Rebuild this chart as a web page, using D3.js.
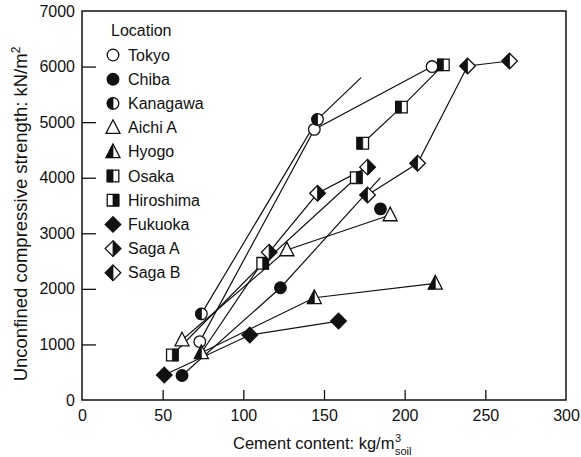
<!DOCTYPE html>
<html><head><meta charset="utf-8">
<script src="https://cdn.jsdelivr.net/npm/d3@7/dist/d3.min.js"></script>
<style>
html,body{margin:0;padding:0;background:#fff;}
text{font-family:"Liberation Sans",Arial,Helvetica,sans-serif;fill:#111;}
</style></head>
<body><svg id="chart" width="581" height="457"></svg>
<script>
// ---- data (x: cement content kg/m3, y: unconfined compressive strength kN/m2) ----
const locations = ["Tokyo","Chiba","Kanagawa","Aichi A","Hyogo","Osaka","Hiroshima","Fukuoka","Saga A","Saga B"];
const tokyo     = [[73,1050],[144,4870],[217,6000]];
const chiba     = [[62,440],[123,2020],[185,3440]];
const kanagawa  = [[74,1550],[146,5050]];
const aichiA    = [[62,1080],[127,2700],[191,3330]];
const hyogo     = [[74,850],[144,1840],[219,2100]];
const osaka     = [[174,4620],[198,5270],[224,6030]];
const hiroshima = [[56,810],[112,2460],[170,4000]];
const fukuoka   = [[51,450],[104,1170],[159,1420]];
const sagaA     = [[116,2660],[146,3720],[177,4190]];
const sagaB     = [[177,3690],[208,4260],[239,6010],[265,6100]];
// connecting lines where they differ from the plotted points
const kanagawaLine = [[74,1550],[146,5050],[173,5800]];
const chibaLine    = [[62,440],[123,2020],[185,4000]];
const sagaALine    = [[74,850],[116,2660],[146,3720],[177,4190]];
const xTicks = [0,50,100,150,200,250,300];
const yTicks = [0,1000,2000,3000,4000,5000,6000,7000];

// ---- marker styles ----
const markerStyle = {
  "Tokyo":["circle","open"], "Chiba":["circle","full"], "Kanagawa":["circle","left"],
  "Aichi A":["triangle","open"], "Hyogo":["triangle","left"], "Osaka":["square","left"],
  "Hiroshima":["square","right"], "Fukuoka":["diamond","full"], "Saga A":["diamond","right"],
  "Saga B":["diamond","left"]
};
const series = [
  {name:"Tokyo", pts:tokyo, line:tokyo},
  {name:"Chiba", pts:chiba, line:chibaLine},
  {name:"Kanagawa", pts:kanagawa, line:kanagawaLine},
  {name:"Aichi A", pts:aichiA, line:aichiA},
  {name:"Hyogo", pts:hyogo, line:hyogo},
  {name:"Osaka", pts:osaka, line:osaka},
  {name:"Hiroshima", pts:hiroshima, line:hiroshima},
  {name:"Fukuoka", pts:fukuoka, line:fukuoka},
  {name:"Saga A", pts:sagaA, line:sagaALine},
  {name:"Saga B", pts:sagaB, line:sagaB}
];

const svg = d3.select("#chart");
const L=82, R=566, T=11, B=400;
const x = d3.scaleLinear().domain([0,300]).range([L,R]);
const y = d3.scaleLinear().domain([0,7000]).range([B,T]);

// frame
svg.append("rect").attr("x",L).attr("y",T).attr("width",R-L).attr("height",B-T)
  .attr("fill","none").attr("stroke","#111").attr("stroke-width",1.5);

// axes
const ax = svg.append("g").attr("transform",`translate(0,${B})`)
  .call(d3.axisBottom(x).tickValues(xTicks).tickFormat(d3.format("d")).tickSizeInner(-10).tickSizeOuter(0).tickPadding(10));
const ay = svg.append("g").attr("transform",`translate(${L},0)`)
  .call(d3.axisLeft(y).tickValues(yTicks).tickFormat(d3.format("d")).tickSizeInner(-14).tickSizeOuter(0).tickPadding(7));
[ax,ay].forEach(a=>{
  a.select(".domain").remove();
  a.selectAll(".tick line").attr("stroke","#111").attr("stroke-width",1.3);
  a.selectAll(".tick text").attr("font-size",16).attr("fill","#111")
    .attr("font-family","Liberation Sans, Arial, sans-serif");
});
ax.selectAll(".tick").filter(d=>d===0||d===300).select("line").remove();
ay.selectAll(".tick").filter(d=>d===0||d===7000).select("line").remove();

// axis titles
const xt = svg.append("text").attr("x",233).attr("y",449).attr("font-size",16.5)
  .text("Cement content: kg/m");
const xtEnd = 233 + xt.node().getComputedTextLength();
svg.append("text").attr("x",xtEnd+0.5).attr("y",442).attr("font-size",11).text("3");
svg.append("text").attr("x",xtEnd+0.5).attr("y",455).attr("font-size",11).text("soil");

const yt = svg.append("text").attr("transform","translate(27,214) rotate(-90)")
  .attr("text-anchor","middle").attr("font-size",18.5);
yt.append("tspan").text("Unconfined compressive strength: kN/m");
yt.append("tspan").attr("dy",-7).attr("font-size",12).text("2");

// lines
const line = d3.line().x(d=>x(d[0])).y(d=>y(d[1]));
svg.append("g").selectAll("path").data(series).join("path")
  .attr("d",d=>line(d.line)).attr("fill","none").attr("stroke","#111").attr("stroke-width",1.2);

// markers
function shapePaths(type){
  if(type==="circle"){
    const r=5.8;
    return {full:`M${-r},0A${r},${r} 0 1,0 ${r},0A${r},${r} 0 1,0 ${-r},0Z`,
      left:`M0,${-r}A${r},${r} 0 0,0 0,${r}Z`, right:`M0,${-r}A${r},${r} 0 0,1 0,${r}Z`};
  }
  if(type==="square"){
    const s=5.8;
    return {full:`M${-s},${-s}H${s}V${s}H${-s}Z`, left:`M${-s},${-s}H0V${s}H${-s}Z`, right:`M0,${-s}H${s}V${s}H0Z`};
  }
  if(type==="triangle"){
    return {full:"M0,-7.8L7,5.8L-7,5.8Z", left:"M0,-7.8L-7,5.8L0,5.8Z", right:"M0,-7.8L7,5.8L0,5.8Z"};
  }
  const d=7.8;
  return {full:`M0,${-d}L${d},0L0,${d}L${-d},0Z`, left:`M0,${-d}L${-d},0L0,${d}Z`, right:`M0,${-d}L${d},0L0,${d}Z`};
}
function drawMarker(g, name, cx, cy){
  const [type, fill] = markerStyle[name];
  const p = shapePaths(type);
  const m = g.append("g").attr("transform",`translate(${cx},${cy})`);
  m.append("path").attr("d",p.full).attr("fill",fill==="full"?"#111":"#fff")
    .attr("stroke","#111").attr("stroke-width",1.3).attr("stroke-linejoin","miter");
  if(fill==="left"||fill==="right"){
    m.append("path").attr("d",p[fill]).attr("fill","#111").attr("stroke","#111").attr("stroke-width",0.8);
  }
}
const mg = svg.append("g");
series.forEach(s=>s.pts.forEach(pt=>drawMarker(mg, s.name, x(pt[0]), y(pt[1]))));

// legend
const lg = svg.append("g");
lg.append("text").attr("x",111).attr("y",36).attr("font-size",16).text("Location");
locations.forEach((n,i)=>{
  const cy = 55 + i*24.2;
  drawMarker(lg, n, 113, cy);
  lg.append("text").attr("x",128).attr("y",cy+5.5).attr("font-size",16).text(n);
});
</script></body></html>
